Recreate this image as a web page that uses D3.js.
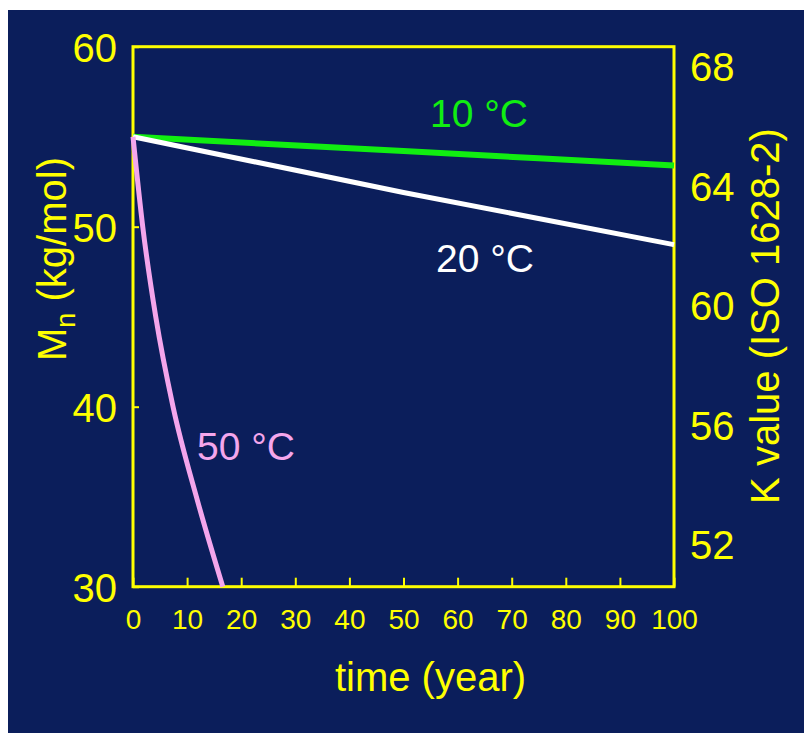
<!DOCTYPE html>
<html>
<head>
<meta charset="utf-8">
<script src="https://cdn.jsdelivr.net/npm/d3@7"></script>
<style>
  html, body { margin: 0; padding: 0; background: #ffffff; }
  svg { display: block; }
  text { font-family: "Liberation Sans", Arial, sans-serif; }
</style>
</head>
<body>
<svg id="chart" width="804" height="733"></svg>
<script>
// ---- data ----
const xTicks = [0, 10, 20, 30, 40, 50, 60, 70, 80, 90, 100];
const mnTicks = [30, 40, 50, 60];
const kTicks = [52, 56, 60, 64, 68];

const t10 = [0, 50, 100];
const mn10 = [55, 54.2, 53.4];

const t20 = [0, 50, 100];
const mn20 = [55, 51.9, 49.0];

const t50 = [0, 1.8, 4.2, 7.4, 11.9, 16.6];
const mn50 = [55, 50, 45, 40, 34.8, 30];

const seriesNames = ["10 °C", "20 °C", "50 °C"];

// ---- layout ----
const svg = d3.select("#chart");
const W = 804, H = 733;
const L = 133, R = 674, T = 46.7, B = 586.7;
const navy = "#0b1e5b", yellow = "#ffff00";

svg.append("rect").attr("x", 8).attr("y", 10).attr("width", W - 8).attr("height", H - 10).attr("fill", navy);

const x = d3.scaleLinear().domain([0, 100]).range([L, R]);
const y = d3.scaleLinear().domain([30, 60]).range([B, T]);
const yK = d3.scaleLinear().domain([50.60, 68.68]).range([B, T]);

// bottom axis
const gx = svg.append("g").attr("transform", `translate(0,${B})`)
  .call(d3.axisBottom(x).tickValues(xTicks).tickSizeInner(-9).tickSizeOuter(0).tickPadding(22));
gx.select(".domain").remove();
gx.selectAll(".tick line").attr("stroke", yellow).attr("stroke-width", 2);
gx.selectAll(".tick text").attr("fill", yellow).attr("font-size", 28).attr("font-family", "Liberation Sans, Arial, sans-serif");

// left axis
const gy = svg.append("g").attr("transform", `translate(${L},0)`)
  .call(d3.axisLeft(y).tickValues(mnTicks).tickSizeInner(-6).tickSizeOuter(0).tickPadding(16));
gy.select(".domain").remove();
gy.selectAll(".tick line").attr("stroke", yellow).attr("stroke-width", 2);
gy.selectAll(".tick text").attr("fill", yellow).attr("font-size", 40).attr("dy", "0.36em")
  .attr("font-family", "Liberation Sans, Arial, sans-serif");

// right axis (labels only)
const gk = svg.append("g").attr("transform", `translate(${R},0)`)
  .call(d3.axisRight(yK).tickValues(kTicks).tickSizeInner(0).tickSizeOuter(0).tickPadding(16));
gk.select(".domain").remove();
gk.selectAll(".tick line").remove();
gk.selectAll(".tick text").attr("fill", yellow).attr("font-size", 40).attr("dy", "0.34em")
  .attr("font-family", "Liberation Sans, Arial, sans-serif");

// frame
svg.append("rect").attr("x", L).attr("y", T).attr("width", R - L).attr("height", B - T)
  .attr("fill", "none").attr("stroke", yellow).attr("stroke-width", 3);

// lines
const line = d3.line().x(d => x(d[0])).y(d => y(d[1])).curve(d3.curveMonotoneX);
const series = [
  { name: seriesNames[0], pts: d3.zip(t10, mn10), color: "#11ee11", w: 6 },
  { name: seriesNames[1], pts: d3.zip(t20, mn20), color: "#ffffff", w: 5 },
  { name: seriesNames[2], pts: d3.zip(t50, mn50), color: "#f4a6ec", w: 5 }
];
series.forEach(s => {
  svg.append("path").attr("d", line(s.pts)).attr("fill", "none")
    .attr("stroke", s.color).attr("stroke-width", s.w);
});

// series labels
const labels = [
  { text: seriesNames[0], x: 479, y: 127, color: "#11ee11" },
  { text: seriesNames[1], x: 485, y: 272, color: "#ffffff" },
  { text: seriesNames[2], x: 246, y: 460, color: "#f4a6ec" }
];
labels.forEach(l => {
  svg.append("text").attr("x", l.x).attr("y", l.y).attr("text-anchor", "middle")
    .attr("fill", l.color).attr("font-size", 39).text(l.text);
});

// axis titles
svg.append("text").attr("x", (L + R) / 2 + 27).attr("y", 691).attr("text-anchor", "middle")
  .attr("fill", yellow).attr("font-size", 40).text("time (year)");

const yt = svg.append("text").attr("transform", `translate(66,259) rotate(-90)`)
  .attr("text-anchor", "middle").attr("fill", yellow).attr("font-size", 40);
yt.append("tspan").text("M");
yt.append("tspan").attr("font-size", 27).attr("dy", 9).text("n");
yt.append("tspan").attr("dy", -9).text(" (kg/mol)");

svg.append("text").attr("transform", `translate(779,316) rotate(-90)`)
  .attr("text-anchor", "middle").attr("fill", yellow).attr("font-size", 40)
  .text("K value (ISO 1628-2)");
</script>
</body>
</html>
